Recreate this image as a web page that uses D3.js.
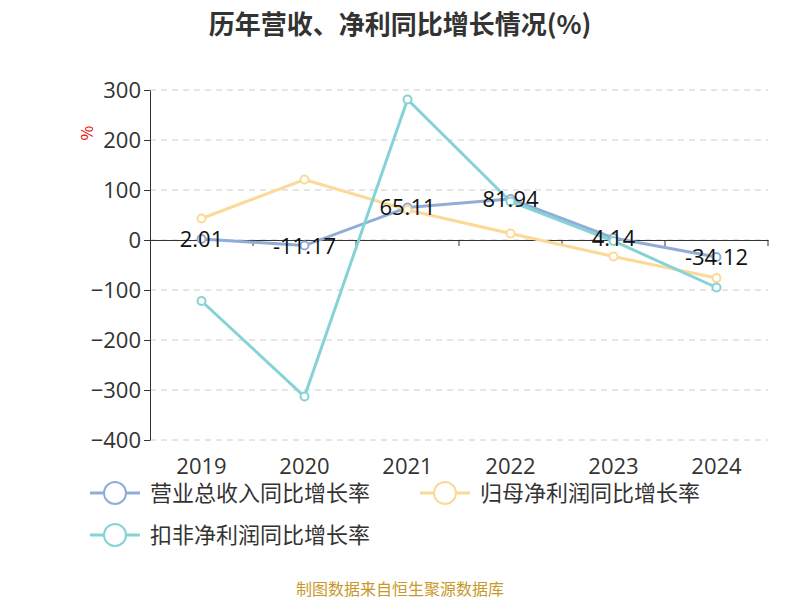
<!DOCTYPE html>
<html><head><meta charset="utf-8">
<script src="https://cdn.jsdelivr.net/npm/d3@7"></script>
<style>body{margin:0;background:#fff;font-family:"Noto Sans CJK SC","Noto Sans",sans-serif;}</style>
</head><body><svg id="c" width="800" height="600"></svg>
<script>
const years=["2019","2020","2021","2022","2023","2024"];
const revenue=[2.01,-11.17,65.11,81.94,4.14,-34.12];
const netProfit=[43,121,60,13,-33,-76];
const deducted=[-122,-313,281,77,-2,-95];
const yTicks=[300,200,100,0,-100,-200,-300,-400];
const seriesNames=["营业总收入同比增长率","归母净利润同比增长率","扣非净利润同比增长率"];
const colors=["#91acd9","#fcd997","#85d3d6"];

const svg=d3.select("#c");
const x=d3.scaleBand().domain(years).range([150,768]);
const y=d3.scaleLinear().domain([-400,300]).range([440,90]);
svg.append("text").attr("x",400).attr("y",34).attr("text-anchor","middle").attr("font-size",26).attr("font-weight","bold").attr("fill","#333").text("历年营收、净利同比增长情况(%)");
svg.selectAll(".g").data(yTicks).enter().append("line").attr("x1",150).attr("x2",768).attr("y1",d=>y(d)).attr("y2",d=>y(d)).attr("stroke","#ccc").attr("stroke-dasharray","6,5");
const ya=svg.append("g").attr("transform","translate(150,0)").call(d3.axisLeft(y).tickValues(yTicks).tickSize(6).tickSizeOuter(0));
ya.selectAll("text").attr("font-size",22).attr("fill","#333").attr("font-family","Open Sans");
ya.selectAll("line,path").attr("stroke","#333");
const xa=svg.append("g").attr("transform",`translate(0,${y(0)})`).call(d3.axisBottom(x).tickSize(6).tickSizeOuter(0));
xa.selectAll("text").remove();
xa.selectAll(".tick line").attr("transform",`translate(${x.bandwidth()/2},0)`);
xa.selectAll("line,path").attr("stroke","#333");
svg.selectAll(".xl").data(years).enter().append("text").attr("x",d=>x(d)+x.bandwidth()/2).attr("y",474).attr("text-anchor","middle").attr("font-size",22).attr("fill","#333").attr("font-family","Open Sans").text(d=>d);
svg.append("text").attr("transform","translate(93,133) rotate(-90)").attr("text-anchor","middle").attr("font-size",16).attr("fill","#e00").text("%");
const cx=d=>x(d)+x.bandwidth()/2;
const line=d3.line().x((d,i)=>cx(years[i])).y(d=>y(d));
[revenue,netProfit,deducted].forEach((s,k)=>{
  svg.append("path").attr("d",line(s)).attr("fill","none").attr("stroke",colors[k]).attr("stroke-width",3);
});
[revenue,netProfit,deducted].forEach((s,k)=>{
  svg.selectAll(".p"+k).data(s).enter().append("circle").attr("cx",(d,i)=>cx(years[i])).attr("cy",d=>y(d)).attr("r",4).attr("fill","#fff").attr("stroke",colors[k]).attr("stroke-width",2);
});
svg.selectAll(".lb").data(revenue).enter().append("text").attr("x",(d,i)=>cx(years[i])).attr("y",d=>y(d)+8).attr("text-anchor","middle").attr("font-size",22).attr("fill","#111").attr("font-family","Open Sans").text(d=>d.toFixed(2));
const lg=[[90,493],[420,493],[90,535]];
seriesNames.forEach((n,k)=>{
  const [lx,ly]=lg[k];
  svg.append("line").attr("x1",lx).attr("x2",lx+50).attr("y1",ly).attr("y2",ly).attr("stroke",colors[k]).attr("stroke-width",3);
  svg.append("circle").attr("cx",lx+25).attr("cy",ly).attr("r",11).attr("fill","#fff").attr("stroke",colors[k]).attr("stroke-width",2);
  svg.append("text").attr("x",lx+60).attr("y",ly+8).attr("font-size",22).attr("fill","#333").text(n);
});
svg.append("text").attr("x",400).attr("y",595).attr("text-anchor","middle").attr("font-size",16).attr("fill","#c8992a").text("制图数据来自恒生聚源数据库");
</script></body></html>
